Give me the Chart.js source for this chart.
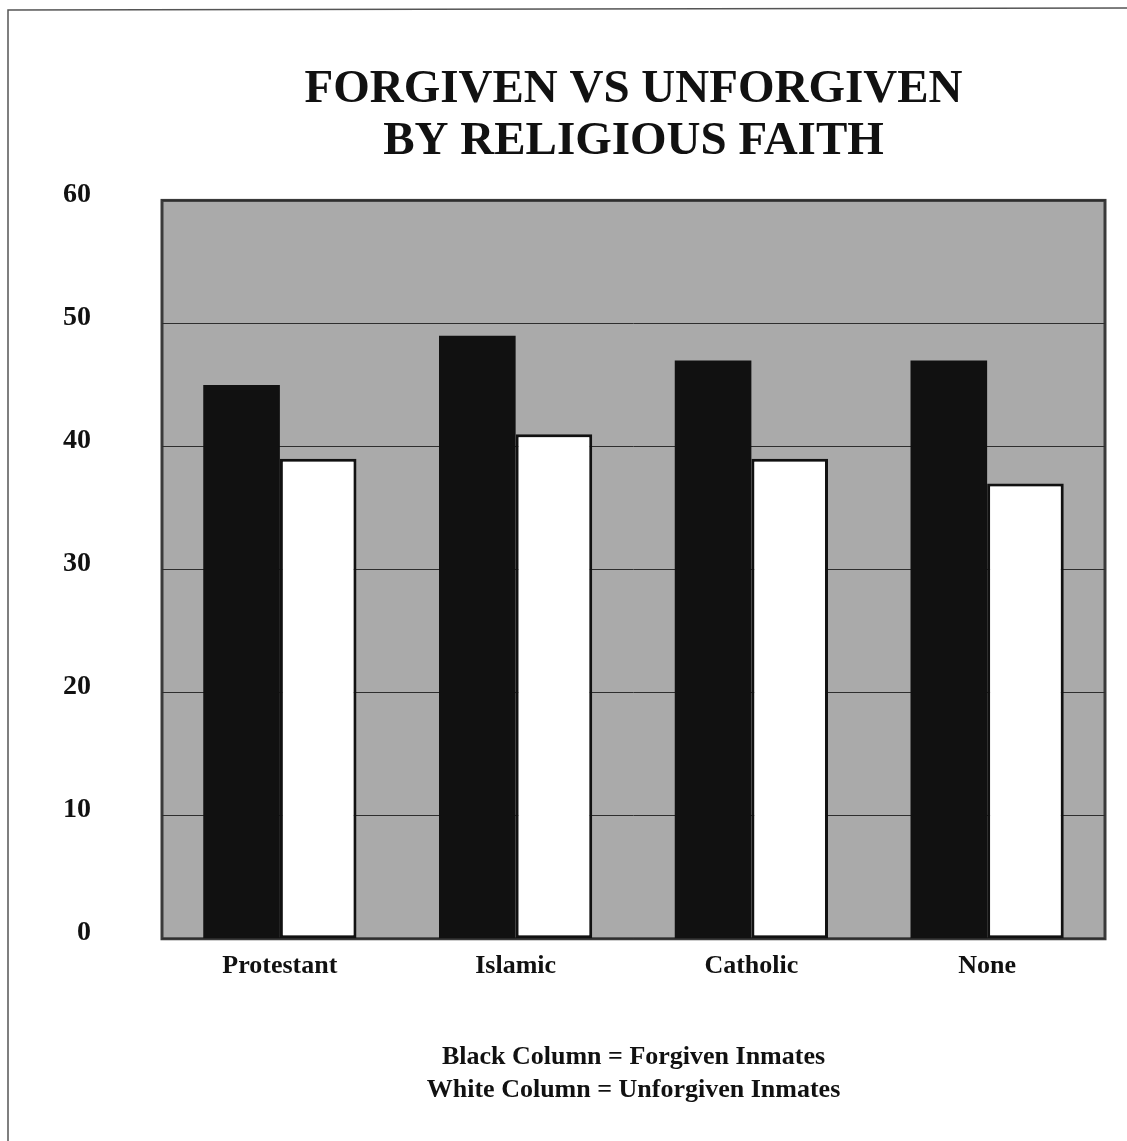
<!DOCTYPE html>
<html>
<head>
<meta charset="utf-8">
<script src="https://cdn.jsdelivr.net/npm/chart.js@4"></script>
<style>
    html, body { margin: 0; padding: 0; background: #fff; }
    #wrap { width: 1127px; height: 1141px; position: relative; }
</style>
</head>
<body>
<div id="wrap"><canvas id="myChart" width="1127" height="1141"></canvas></div>
<script>
const faiths = ["Protestant", "Islamic", "Catholic", "None"];
const forgiven = [45, 49, 47, 47];
const unforgiven = [39, 41, 39, 37];
const titleLines = ["FORGIVEN VS UNFORGIVEN", "BY RELIGIOUS FAITH"];
const keyLines = ["Black Column = Forgiven Inmates", "White Column = Unforgiven Inmates"];

const serif = "'Liberation Serif', 'Times New Roman', serif";

// gray plot background, border and the page frame
const plotBack = {
    id: "plotBack",
    beforeDraw(chart) {
        const { ctx, chartArea: a } = chart;
        ctx.save();
        ctx.strokeStyle = "#555";
        ctx.lineWidth = 1.5;
        ctx.beginPath();
        ctx.moveTo(8, 1141);
        ctx.lineTo(8, 10);
        ctx.lineTo(1127, 8);
        ctx.stroke();
        ctx.fillStyle = "#aaaaaa";
        ctx.fillRect(a.left, a.top, a.right - a.left, a.bottom - a.top);
        ctx.strokeStyle = "#3a3a3a";
        ctx.lineWidth = 3;
        ctx.strokeRect(a.left, a.top, a.right - a.left, a.bottom - a.top);
        ctx.restore();
    },
};

const ctx = document.getElementById("myChart");
const myChart = new Chart(ctx, {
    type: "bar",
    data: {
        labels: faiths,
        datasets: [
            {
                label: "Forgiven",
                data: forgiven,
                backgroundColor: "#111111",
                borderWidth: 0,
                categoryPercentage: 0.65,
                barPercentage: 1.0,
            },
            {
                label: "Unforgiven",
                data: unforgiven,
                backgroundColor: "#ffffff",
                borderColor: "#111111",
                borderWidth: 3,
                borderSkipped: false,
                categoryPercentage: 0.65,
                barPercentage: 1.0,
            },
        ],
    },
    options: {
        responsive: false,
        animation: false,
        layout: { padding: { left: 63, right: 22, top: 0, bottom: 0 } },
        plugins: {
            legend: { display: false },
            tooltip: { enabled: false },
            title: {
                display: true,
                text: titleLines,
                fullSize: false,
                color: "#111",
                font: { family: serif, size: 47, weight: "bold", lineHeight: 1.1 },
                padding: { top: 64, bottom: 33 },
            },
            subtitle: {
                display: true,
                position: "bottom",
                text: keyLines,
                fullSize: false,
                color: "#111",
                font: { family: serif, size: 26, weight: "bold", lineHeight: 1.27 },
                padding: { top: 47, bottom: 34 },
            },
        },
        scales: {
            x: {
                grid: { display: false, drawTicks: false },
                border: { display: false },
                ticks: {
                    color: "#111",
                    padding: 12,
                    font: { family: serif, size: 26, weight: "bold" },
                },
            },
            y: {
                min: 0,
                max: 60,
                grid: { color: "#2e2e2e", lineWidth: 1, drawTicks: false },
                border: { display: false },
                afterFit(scale) {
                    scale.width = 99;
                },
                ticks: {
                    stepSize: 10,
                    color: "#111",
                    padding: 71,
                    labelOffset: -6,
                    font: { family: serif, size: 28, weight: "bold" },
                },
            },
        },
    },
    plugins: [plotBack],
});
</script>
</body>
</html>
